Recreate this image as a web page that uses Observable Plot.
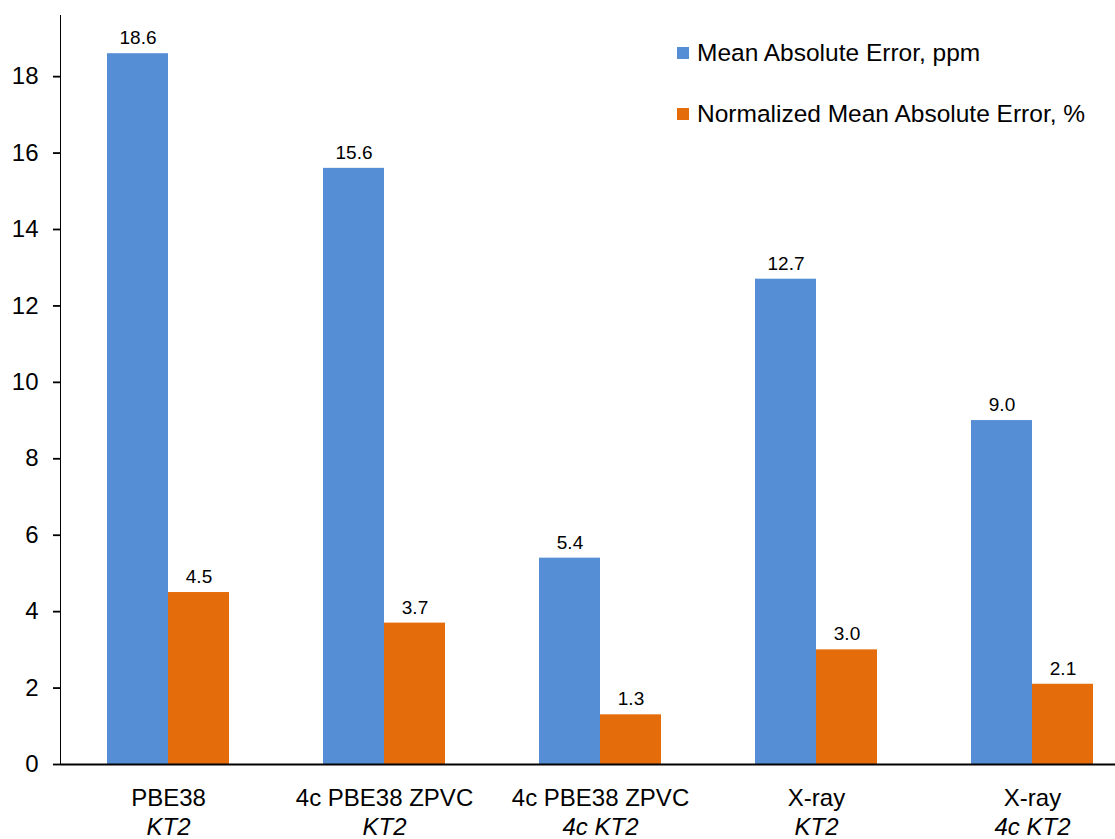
<!DOCTYPE html>
<html>
<head>
<meta charset="utf-8">
<script src="https://cdn.jsdelivr.net/npm/d3@7"></script>
<script src="https://cdn.jsdelivr.net/npm/@observablehq/plot@0.6"></script>
<style>
  html, body { margin: 0; padding: 0; background: #fff; overflow: hidden; }
  #wrap { position: relative; width: 1115px; height: 839px; overflow: hidden; font-family: "Liberation Sans", Arial, sans-serif; }
  #wrap svg { overflow: hidden; }
  #wrap svg [aria-label^="y-axis"] { stroke-width: 1.8px; }
  .legend { position: absolute; left: 677px; top: 36px; font-size: 24.5px; color: #000; }
  .legend .row { display: flex; align-items: center; height: 34px; margin-bottom: 27px; }
  .legend .sw { width: 12px; height: 12px; margin-right: 8px; }
</style>
</head>
<body>
<div id="wrap"></div>
<script>
// ---- data ----
const methods = ["PBE38", "4c PBE38 ZPVC", "4c PBE38 ZPVC", "X-ray", "X-ray"];
const bases = ["KT2", "KT2", "4c KT2", "KT2", "4c KT2"];
const seriesNames = ["Mean Absolute Error, ppm", "Normalized Mean Absolute Error, %"];
const mae = [18.6, 15.6, 5.4, 12.7, 9.0];
const nmae = [4.5, 3.7, 1.3, 3.0, 2.1];
const colors = ["#558ED5", "#E46C0A"];
const yTicks = [0, 2, 4, 6, 8, 10, 12, 14, 16, 18];

// ---- table ----
const keys = methods.map((m, i) => m + " | " + bases[i]);
const rows = [];
keys.forEach((k, i) => {
  rows.push({key: k, method: methods[i], basis: bases[i], series: seriesNames[0], value: mae[i]});
  rows.push({key: k, method: methods[i], basis: bases[i], series: seriesNames[1], value: nmae[i]});
});

const font = "'Liberation Sans', Arial, sans-serif";

const chart = Plot.plot({
  width: 1115,
  height: 839,
  marginLeft: 60,
  marginRight: 0,
  marginTop: 15,
  marginBottom: 75,
  style: {fontFamily: font, fontSize: "24px", color: "#000", background: "#fff"},
  facet: {data: rows, x: "key"},
  fx: {domain: keys, range: [60, 1140], padding: 0, axis: null, label: null},
  x: {domain: seriesNames, paddingInner: 0, paddingOuter: 0.77, axis: null},
  y: {domain: [0, 19.6], ticks: yTicks, tickFormat: d => String(d), tickSize: 7, tickPadding: 15, line: true, label: null},
  color: {domain: seriesNames, range: colors},
  marks: [
    Plot.barY(rows, {x: "series", y: "value", fill: "series"}),
    Plot.text(rows, {x: "series", y: "value", text: d => d.value.toFixed(1), dy: -15.5, fontSize: 19, fill: "#000"}),
    Plot.text(rows, {filter: d => d.series === seriesNames[0], text: "method", frameAnchor: "bottom", dy: 41, fontSize: 24, fill: "#000"}),
    Plot.text(rows, {filter: d => d.series === seriesNames[0], text: "basis", frameAnchor: "bottom", dy: 70, fontSize: 24, fontStyle: "italic", fill: "#000"}),
    Plot.ruleY([0], {stroke: "#000", strokeWidth: 2})
  ]
});

const wrap = document.getElementById("wrap");
wrap.appendChild(chart);

// legend
const legend = document.createElement("div");
legend.className = "legend";
seriesNames.forEach((s, i) => {
  const row = document.createElement("div");
  row.className = "row";
  const sw = document.createElement("span");
  sw.className = "sw";
  sw.style.background = colors[i];
  const t = document.createElement("span");
  t.textContent = s;
  row.appendChild(sw);
  row.appendChild(t);
  legend.appendChild(row);
});
wrap.appendChild(legend);
</script>
</body>
</html>
